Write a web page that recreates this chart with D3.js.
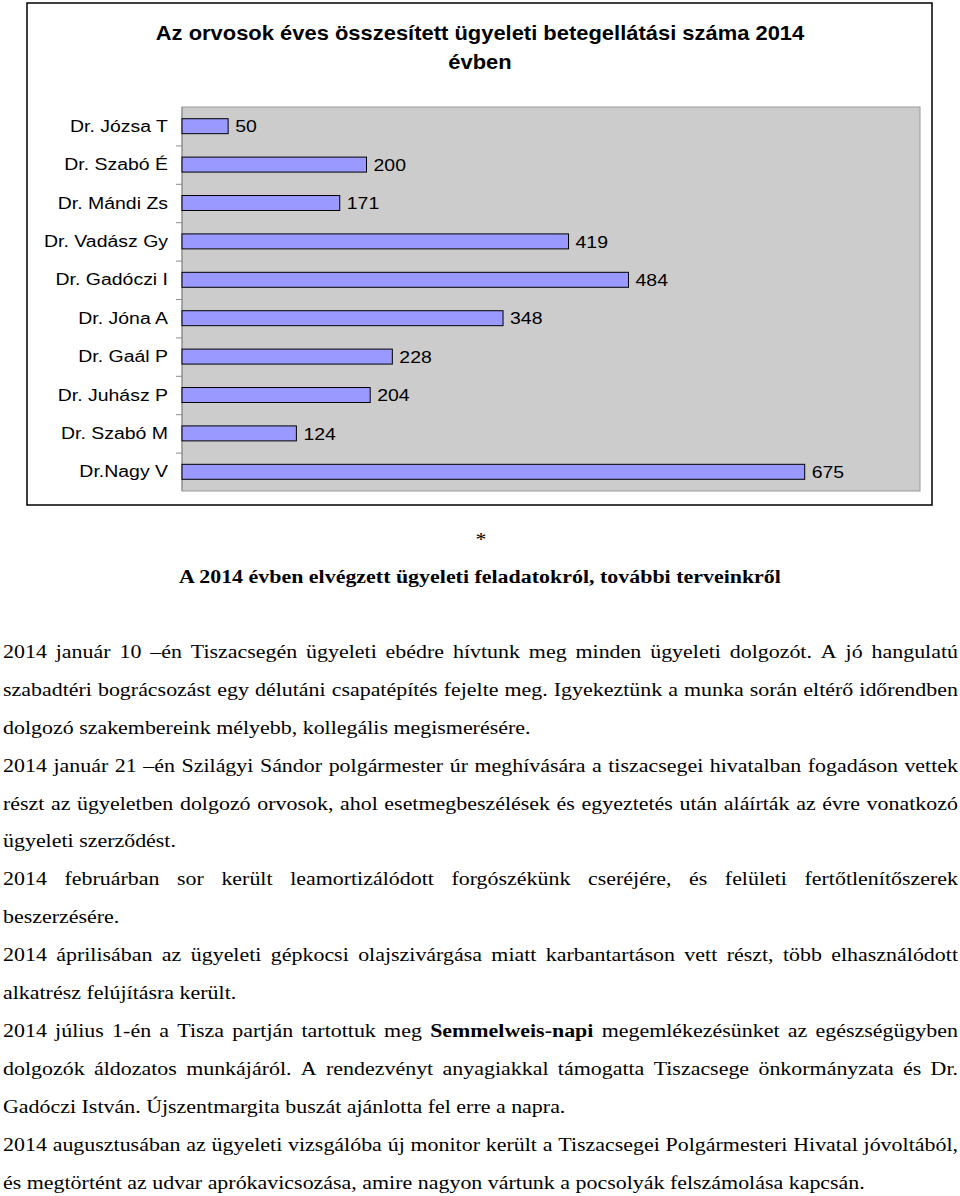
<!DOCTYPE html>
<html>
<head>
<meta charset="utf-8">
<script src="https://cdn.jsdelivr.net/npm/d3@7/dist/d3.min.js"></script>
<style>
  html, body { margin: 0; padding: 0; background: #fff; }
  svg { display: block; }
</style>
</head>
<body>
<svg id="page" width="960" height="1196"></svg>
<script>
// ---- Data ----
const categories = ["Dr. Józsa T", "Dr. Szabó É", "Dr. Mándi Zs", "Dr. Vadász Gy", "Dr. Gadóczi I",
  "Dr. Jóna A", "Dr. Gaál P", "Dr. Juhász P", "Dr. Szabó M", "Dr.Nagy V"];
const values = [50, 200, 171, 419, 484, 348, 228, 204, 124, 675];
const xDomain = [0, 800];
const titleLines = ["Az orvosok éves összesített ügyeleti betegellátási száma 2014", "évben"];
const heading = "A 2014 évben elvégzett ügyeleti feladatokról, további terveinkről";
const bodyLines = [
  {t: "2014 január 10 –én Tiszacsegén ügyeleti ebédre hívtunk meg minden ügyeleti dolgozót. A jó hangulatú", j: true},
  {t: "szabadtéri bográcsozást egy délutáni csapatépítés fejelte meg. Igyekeztünk a munka során eltérő időrendben", j: true},
  {t: "dolgozó szakembereink mélyebb, kollegális megismerésére.", j: false},
  {t: "2014 január 21 –én Szilágyi Sándor polgármester úr meghívására a tiszacsegei hivatalban fogadáson vettek", j: true},
  {t: "részt az ügyeletben dolgozó orvosok, ahol esetmegbeszélések és egyeztetés után aláírták az évre vonatkozó", j: true},
  {t: "ügyeleti szerződést.", j: false},
  {t: "2014 februárban sor került leamortizálódott forgószékünk cseréjére, és felületi fertőtlenítőszerek", j: true},
  {t: "beszerzésére.", j: false},
  {t: "2014 áprilisában az ügyeleti gépkocsi olajszivárgása miatt karbantartáson vett részt, több elhasználódott", j: true},
  {t: "alkatrész felújításra került.", j: false},
  {t: "2014 július 1-én a Tisza partján tartottuk meg **Semmelweis-napi** megemlékezésünket az egészségügyben", j: true},
  {t: "dolgozók áldozatos munkájáról. A rendezvényt anyagiakkal támogatta Tiszacsege önkormányzata és Dr.", j: true},
  {t: "Gadóczi István. Újszentmargita buszát ajánlotta fel erre a napra.", j: false},
  {t: "2014 augusztusában az ügyeleti vizsgálóba új monitor került a Tiszacsegei Polgármesteri Hivatal jóvoltából,", j: true},
  {t: "és megtörtént az udvar aprókavicsozása, amire nagyon vártunk a pocsolyák felszámolása kapcsán.", j: false}
];

// ---- Layout ----
const svg = d3.select("#page");
const sans = "'Liberation Sans', Arial, sans-serif";
const serif = "'Liberation Serif', 'Times New Roman', serif";
const sx = 1.125; // horizontal stretch of the glyphs in the reference

// outer chart frame
svg.append("rect").attr("x", 27).attr("y", 3).attr("width", 905).attr("height", 502)
  .attr("fill", "#fff").attr("stroke", "#000").attr("stroke-width", 1.5);

// title
svg.append("g").selectAll("text").data(titleLines).join("text")
  .attr("transform", (d, i) => `translate(480,${40 + i * 29}) scale(${sx},1)`)
  .attr("text-anchor", "middle")
  .attr("font-family", sans).attr("font-weight", "bold").attr("font-size", 19.5)
  .attr("fill", "#000").text(d => d);

const plot = {left: 182, top: 107, right: 920, bottom: 491};
const x = d3.scaleLinear().domain(xDomain).range([plot.left, plot.right]);
const y = d3.scaleBand().domain(categories).range([plot.top, plot.bottom]).padding(0);
const barH = y.bandwidth() * 0.39;

svg.append("rect").attr("x", plot.left).attr("y", plot.top)
  .attr("width", plot.right - plot.left).attr("height", plot.bottom - plot.top)
  .attr("fill", "#cccccc").attr("stroke", "#999999").attr("stroke-width", 1);

// axis labels
const yAxis = d3.axisLeft(y).tickSize(0).tickPadding(14);
const ag = svg.append("g").attr("transform", `translate(${plot.left},0)`).call(yAxis);
ag.select(".domain").remove();
ag.selectAll("text").attr("font-family", sans).attr("font-size", 17.3).attr("fill", "#000")
  .attr("x", -14 / sx).attr("transform", `scale(${sx},1)`);

// axis line + boundary ticks
svg.append("line").attr("x1", plot.left).attr("x2", plot.left)
  .attr("y1", plot.top).attr("y2", plot.bottom).attr("stroke", "#8c8c8c");
svg.append("g").selectAll("line").data(categories.slice(1)).join("line")
  .attr("x1", plot.left - 6).attr("x2", plot.left)
  .attr("y1", d => y(d) + 0.5).attr("y2", d => y(d) + 0.5)
  .attr("stroke", "#8c8c8c");

// bars
const bars = categories.map((c, i) => ({c, v: values[i]}));
svg.append("g").selectAll("rect").data(bars).join("rect")
  .attr("x", x(0))
  .attr("y", d => y(d.c) + (y.bandwidth() - barH) / 2)
  .attr("width", d => x(d.v) - x(0))
  .attr("height", barH)
  .attr("fill", "#9999ff").attr("stroke", "#000").attr("stroke-width", 1);

// value labels
svg.append("g").selectAll("text").data(bars).join("text")
  .attr("transform", d => `translate(${x(d.v) + 7},${y(d.c) + y.bandwidth() / 2}) scale(${sx},1)`)
  .attr("dy", "0.36em")
  .attr("font-family", sans).attr("font-size", 17.3).attr("fill", "#000")
  .text(d => d.v);

// asterisk and heading
svg.append("text").attr("transform", `translate(481,546) scale(${sx},1)`).attr("text-anchor", "middle")
  .attr("font-family", serif).attr("font-size", 19.5).text("*");
svg.append("text").attr("transform", `translate(480,583) scale(${sx},1)`).attr("text-anchor", "middle")
  .attr("font-family", serif).attr("font-weight", "bold").attr("font-size", 19.5).text(heading);

// body text with justification
const textLeft = 3 / sx, textRight = 958 / sx, fs = 19.5;
const tg = svg.append("g").attr("transform", `scale(${sx},1)`)
  .attr("font-family", serif).attr("font-size", fs).attr("fill", "#000");
const sp = tg.append("text").attr("y", -100).text("a a");
const sp2 = tg.append("text").attr("y", -100).text("aa");
const spaceW = sp.node().getComputedTextLength() - sp2.node().getComputedTextLength();
sp.remove(); sp2.remove();
bodyLines.forEach((line, i) => {
  const by = 658 + i * 37.9;
  const words = [];
  let bold = false;
  line.t.split(" ").forEach(w => {
    let b = bold, txt = w;
    if (txt.startsWith("**")) { b = true; txt = txt.slice(2); bold = true; }
    if (txt.endsWith("**")) { txt = txt.slice(0, -2); bold = false; }
    words.push({txt, b});
  });
  const els = words.map(w => tg.append("text").attr("y", by)
    .attr("font-weight", w.b ? "bold" : "normal").text(w.txt));
  const widths = els.map(e => e.node().getComputedTextLength());
  const total = d3.sum(widths);
  const gap = (line.j && words.length > 1) ? (textRight - textLeft - total) / (words.length - 1) : spaceW;
  let cx = textLeft;
  els.forEach((e, k) => { e.attr("x", cx); cx += widths[k] + gap; });
});
</script>
</body>
</html>
